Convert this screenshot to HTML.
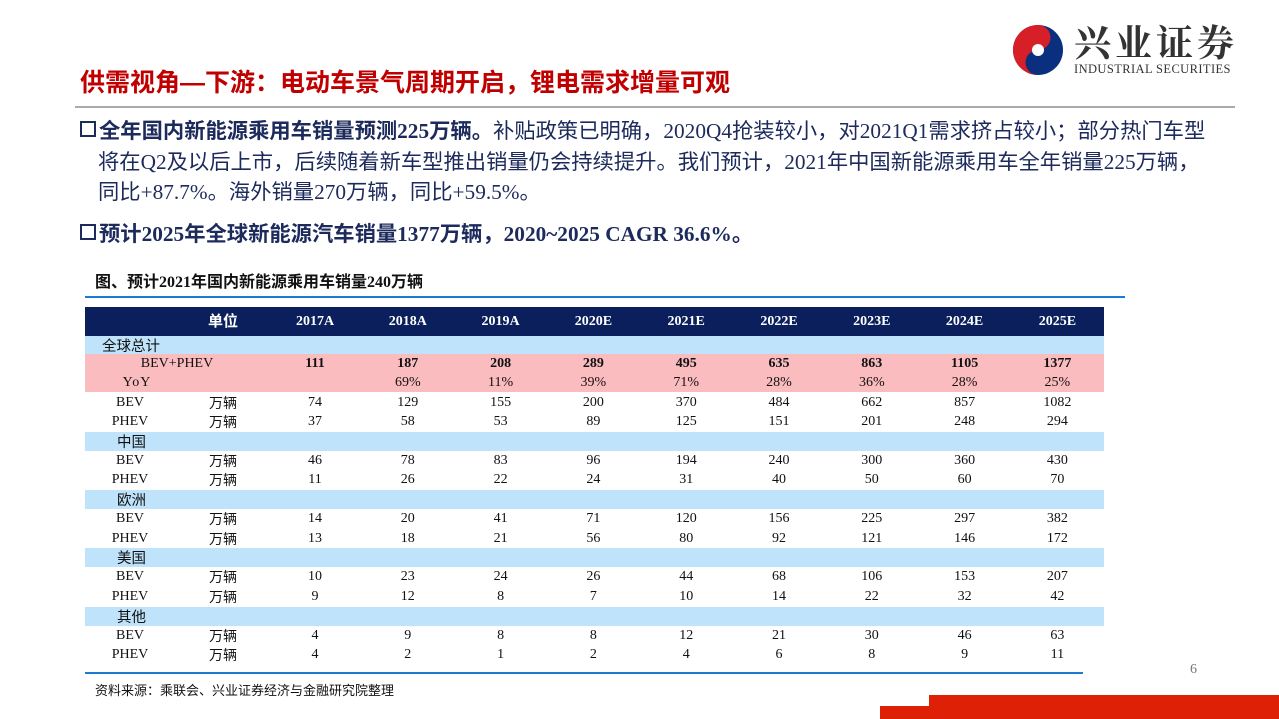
<!DOCTYPE html>
<html><head><meta charset="utf-8">
<style>
body{margin:0;width:1279px;height:719px;background:#fff;position:relative;overflow:hidden;font-family:"Liberation Serif","Noto Serif CJK SC",serif;}
.a{position:absolute;white-space:nowrap;}
.cell{position:absolute;text-align:center;font-size:14px;color:#111;line-height:19px;}
.cjk{font-family:"Liberation Sans","Noto Sans CJK SC",sans-serif;}
.txt{color:#1c2a5c;font-size:21.3px;font-family:"Liberation Serif","Noto Sans CJK SC",serif;}
.sq{display:inline-block;width:12px;height:12px;border:2.5px solid #1c2a5c;margin-right:3px;vertical-align:1px;}
</style></head><body>
<div class="a" style="left:1012px;top:22px;width:250px;height:56px;">
 <svg width="52" height="52" viewBox="0 0 52 52" style="position:absolute;left:0;top:2px">
  <circle cx="26" cy="26" r="25" fill="#0a2f7e"/>
  <path d="M26 1 A25 25 0 0 0 26 51 A12.5 12.5 0 0 1 26 26 A12.5 12.5 0 0 0 26 1Z" fill="#d71f28"/>
  <circle cx="26" cy="26" r="6" fill="#fff"/>
 </svg>
 <div class="a" style="left:62px;top:-3px;font-size:37px;line-height:42px;color:#333;letter-spacing:4px;font-family:'Noto Serif CJK SC',serif;font-weight:bold">兴业证券</div>
 <div class="a" style="left:62px;top:40px;font-size:12.5px;line-height:14px;color:#333;letter-spacing:0.4px">INDUSTRIAL SECURITIES</div>
</div>
<div class="a cjk" style="left:80px;top:63px;font-size:25px;font-weight:bold;color:#c00000;">供需视角—下游：电动车景气周期开启，锂电需求增量可观</div>
<div class="a" style="left:75px;top:106px;width:1160px;height:2px;background:#aaa"></div>
<div class="a txt" style="left:80px;top:114px;"><b><span class="sq"></span>全年国内新能源乘用车销量预测225万辆。</b>补贴政策已明确，2020Q4抢装较小，对2021Q1需求挤占较小；部分热门车型</div>
<div class="a txt" style="left:98px;top:145px;">将在Q2及以后上市，后续随着新车型推出销量仍会持续提升。我们预计，2021年中国新能源乘用车全年销量225万辆，</div>
<div class="a txt" style="left:98px;top:175px;">同比+87.7%。海外销量270万辆，同比+59.5%。</div>
<div class="a txt" style="left:80px;top:217px;font-weight:bold"><span class="sq"></span>预计2025年全球新能源汽车销量1377万辆，2020~2025 CAGR 36.6%。</div>
<div class="a" style="left:95px;top:268px;font-size:16px;font-weight:bold;color:#111;font-family:'Liberation Serif','Noto Sans CJK SC',serif">图、预计2021年国内新能源乘用车销量240万辆</div>
<div class="a" style="left:85px;top:296px;width:1040px;height:2px;background:#1a7bd0"></div>
<div class="a" id="tbl" style="left:0;top:0;"></div>
<div class="a" style="left:85px;top:672px;width:998px;height:2px;background:#1a7bd0"></div>
<div class="a cjk" style="left:95px;top:680px;font-size:13px;color:#111">资料来源：乘联会、兴业证券经济与金融研究院整理</div>
<div class="a" style="left:1190px;top:662px;font-size:14px;color:#777">6</div>
<div class="a" style="left:880px;top:706px;width:399px;height:13px;background:#dd2006"></div>
<div class="a" style="left:929px;top:695px;width:350px;height:24px;background:#dd2006"></div>
<script>
const years=["2017A","2018A","2019A","2020E","2021E","2022E","2023E","2024E","2025E"];
const totalVals=["111","187","208","289","495","635","863","1105","1377"];
const yoyVals=["","69%","11%","39%","71%","28%","36%","28%","25%"];
const regions=["中国","欧洲","美国","其他"];
const globalBEV=[74,129,155,200,370,484,662,857,1082];
const globalPHEV=[37,58,53,89,125,151,201,248,294];
const chinaBEV=[46,78,83,96,194,240,300,360,430];
const chinaPHEV=[11,26,22,24,31,40,50,60,70];
const euBEV=[14,20,41,71,120,156,225,297,382];
const euPHEV=[13,18,21,56,80,92,121,146,172];
const usBEV=[10,23,24,26,44,68,106,153,207];
const usPHEV=[9,12,8,7,10,14,22,32,42];
const otherBEV=[4,9,8,8,12,21,30,46,63];
const otherPHEV=[4,2,1,2,4,6,8,9,11];
const regionBEV=[chinaBEV,euBEV,usBEV,otherBEV];
const regionPHEV=[chinaPHEV,euPHEV,usPHEV,otherPHEV];

const T=document.getElementById('tbl');
const X0=85,W=1019,colX=i=>315+i*92.8,RH=19.4;
function box(y,h,c,name){const d=document.createElement('div');d.className='a';


d.style.cssText=`left:${X0}px;top:${y}px;width:${W}px;height:${h}px;background:${c}`;T.appendChild(d);}
function txt(x,y,s,name,extra){const d=document.createElement('div');d.className='cell';


d.style.cssText=`left:${x-50}px;top:${y}px;width:100px;`+(extra||'');d.textContent=s;T.appendChild(d);}
box(307,29,'#0a1f5c','table-header');
txt(223,312,'单位','header-unit','color:#fff;font-weight:bold;font-size:15px;font-family:"Liberation Sans","Noto Sans CJK SC",sans-serif');
years.forEach((y,i)=>txt(colX(i),312,y,'header-'+y,'color:#fff;font-weight:bold;font-size:14px'));
box(336,18,'#bfe3fb','global-band');
const g=document.createElement('div');g.className='a cjk';


g.style.cssText='left:102px;top:335px;font-size:14.5px;color:#111';g.textContent='全球总计';T.appendChild(g);
box(354,38,'#fbbcbf','total-band');
txt(177,354,'BEV+PHEV','total-label');
txt(137,373,'YoY','yoy-label','letter-spacing:1px');
totalVals.forEach((v,i)=>txt(colX(i),354,v,'total-'+years[i],'font-weight:bold'));
yoyVals.forEach((v,i)=>txt(colX(i),373,v,'yoy-'+years[i]));
function pair(y,bev,phev,key){
 txt(130,y,'BEV',key+'-bev-label');txt(130,y+RH,'PHEV',key+'-phev-label');
 txt(223,y+1,'万辆',key+'-bev-unit','font-family:"Liberation Sans","Noto Sans CJK SC",sans-serif');
 txt(223,y+RH+1,'万辆',key+'-phev-unit','font-family:"Liberation Sans","Noto Sans CJK SC",sans-serif');
 bev.forEach((v,i)=>txt(colX(i),y,String(v),key+'-bev-'+years[i]));
 phev.forEach((v,i)=>txt(colX(i),y+RH,String(v),key+'-phev-'+years[i]));
}
pair(393,globalBEV,globalPHEV,'global');
const keys=['china','europe','us','other'];
regions.forEach((r,k)=>{
 const y=432+k*58.2;
 box(y,19,'#bfe3fb',keys[k]+'-band');
 const d=document.createElement('div');d.className='a cjk';
 
 
 d.style.cssText=`left:117px;top:${y-1}px;font-size:14.5px;color:#111`;d.textContent=r;T.appendChild(d);
 pair(y+19,regionBEV[k],regionPHEV[k],keys[k]);
});
</script>
</body></html>
